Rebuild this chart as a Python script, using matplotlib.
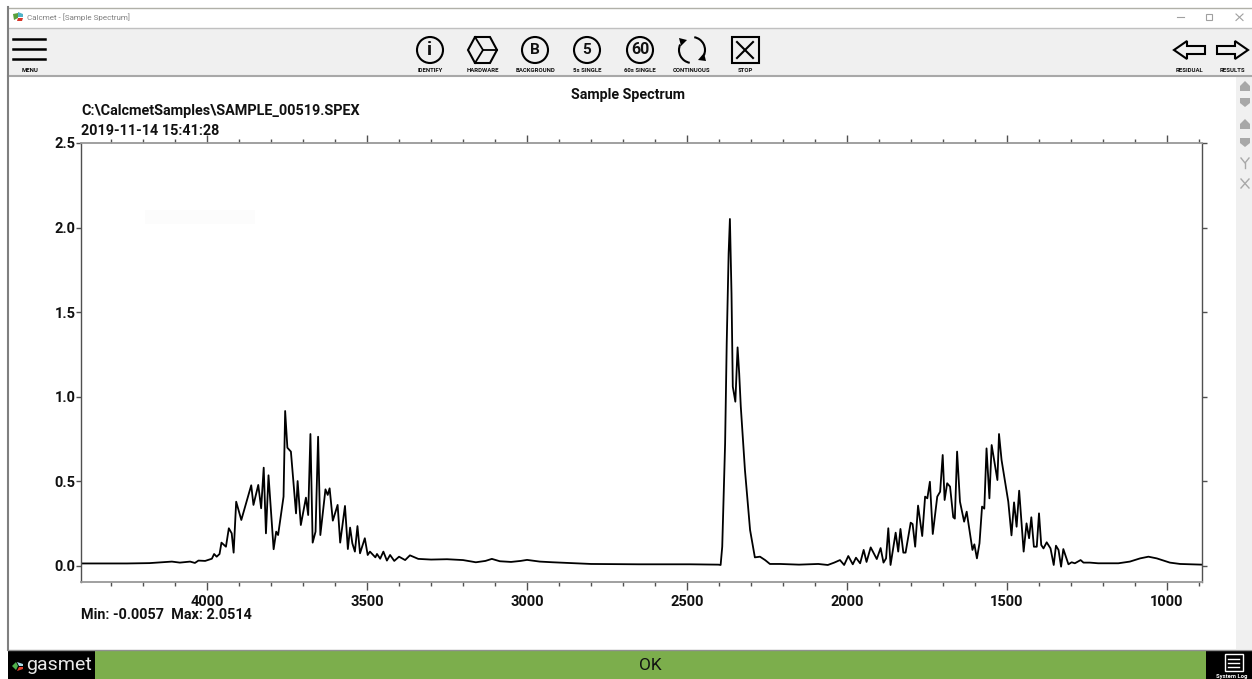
import matplotlib
matplotlib.use("Agg")
import matplotlib.pyplot as plt
from matplotlib.patches import Rectangle, Circle, Polygon, Arc
from matplotlib.ticker import MultipleLocator

plt.rcParams["font.family"] = ["Roboto", "DejaVu Sans"]

# wavenumber / absorbance
wavenumber = [4394, 4250, 4180, 4140, 4110, 4085, 4053, 4038, 4027, 4006, 3985, 3978, 3970, 3961, 3955,
              3941, 3932, 3923, 3917, 3909, 3893, 3862, 3855, 3840, 3831, 3823, 3816, 3808, 3792, 3784,
              3778, 3761, 3756, 3749, 3738, 3722, 3717, 3707, 3691, 3684, 3677, 3670, 3661, 3653, 3646,
              3630, 3623, 3617, 3607, 3592, 3584, 3569, 3560, 3553, 3546, 3538, 3530, 3522, 3507, 3498,
              3491, 3474, 3469, 3459, 3449, 3438, 3428, 3415, 3400, 3381, 3366, 3340, 3300, 3250, 3200,
              3160, 3130, 3110, 3085, 3050, 3020, 3000, 2960, 2920, 2870, 2800, 2650, 2491, 2402, 2395,
              2390, 2381, 2376, 2370, 2366, 2361, 2359, 2357, 2349, 2342, 2337, 2332, 2319, 2303, 2288,
              2272, 2256, 2241, 2209, 2150, 2090, 2060, 2040, 2022, 2009, 1996, 1982, 1972, 1959, 1948,
              1939, 1926, 1907, 1895, 1886, 1878, 1871, 1864, 1848, 1840, 1833, 1824, 1817, 1801, 1795,
              1787, 1778, 1765, 1756, 1749, 1741, 1732, 1718, 1709, 1701, 1695, 1687, 1678, 1668, 1663,
              1656, 1647, 1634, 1626, 1608, 1602, 1594, 1586, 1578, 1571, 1564, 1555, 1548, 1530, 1525,
              1517, 1496, 1486, 1478, 1470, 1462, 1448, 1439, 1431, 1424, 1416, 1407, 1400, 1393, 1386,
              1376, 1364, 1354, 1347, 1339, 1331, 1324, 1308, 1298, 1288, 1270, 1261, 1241, 1215, 1152,
              1116, 1084, 1058, 1032, 991, 959, 892]
absorbance = [0.015, 0.015, 0.017, 0.022, 0.026, 0.020, 0.026, 0.018, 0.032, 0.030, 0.043, 0.071, 0.055, 0.071, 0.138,
              0.114, 0.223, 0.193, 0.079, 0.380, 0.272, 0.477, 0.361, 0.479, 0.341, 0.581, 0.193, 0.536, 0.099, 0.203,
              0.183, 0.410, 0.916, 0.699, 0.676, 0.311, 0.502, 0.242, 0.404, 0.301, 0.780, 0.138, 0.203, 0.764, 0.183,
              0.453, 0.420, 0.459, 0.268, 0.361, 0.138, 0.355, 0.100, 0.227, 0.134, 0.085, 0.236, 0.075, 0.164, 0.065,
              0.085, 0.051, 0.071, 0.043, 0.085, 0.032, 0.065, 0.030, 0.055, 0.035, 0.063, 0.042, 0.038, 0.040, 0.035,
              0.022, 0.030, 0.042, 0.028, 0.024, 0.030, 0.036, 0.026, 0.022, 0.018, 0.012, 0.010, 0.010, 0.008, 0.006,
              0.114, 0.725, 1.316, 1.848, 2.051, 1.610, 1.316, 1.060, 0.971, 1.292, 1.139, 0.942, 0.567, 0.213, 0.051,
              0.055, 0.035, 0.012, 0.012, 0.008, 0.012, 0.006, 0.020, 0.035, 0.006, 0.059, 0.010, 0.049, 0.016, 0.095,
              0.024, 0.110, 0.041, 0.106, 0.020, 0.045, 0.223, 0.006, 0.197, 0.085, 0.219, 0.079, 0.079, 0.256, 0.248,
              0.114, 0.357, 0.177, 0.410, 0.400, 0.498, 0.189, 0.410, 0.439, 0.656, 0.390, 0.489, 0.469, 0.288, 0.280,
              0.676, 0.380, 0.262, 0.321, 0.095, 0.128, 0.045, 0.134, 0.351, 0.339, 0.695, 0.400, 0.715, 0.508, 0.780,
              0.626, 0.380, 0.181, 0.376, 0.232, 0.445, 0.085, 0.252, 0.164, 0.288, 0.114, 0.114, 0.311, 0.124, 0.104,
              0.140, 0.104, 0.006, 0.120, 0.095, -0.004, 0.100, 0.010, 0.022, 0.016, 0.035, 0.020, 0.020, 0.016, 0.016,
              0.026, 0.045, 0.055, 0.045, 0.020, 0.012, 0.008]

x_ticks = [4000, 3500, 3000, 2500, 2000, 1500, 1000]
y_ticks = [0.0, 0.5, 1.0, 1.5, 2.0, 2.5]
toolbar_labels = ["IDENTIFY", "HARDWARE", "BACKGROUND", "5s SINGLE", "60s SINGLE", "CONTINUOUS", "STOP"]
toolbar_x = [430, 483, 535, 587, 640, 692, 745]

fig = plt.figure(figsize=(12.52, 6.79), dpi=100)

# window chrome, in pixel coordinates
ui = fig.add_axes([0, 0, 1, 1])
ui.set_xlim(0, 1252)
ui.set_ylim(679, 0)
ui.axis("off")

ui.add_patch(Rectangle((8, 28), 1244, 48, color="#f0f0f0", lw=0))
ui.plot([8, 1252], [7.5, 7.5], color="#b0b0a8", lw=1)
ui.plot([8, 1252], [27.5, 27.5], color="#c0c0c0", lw=1)
ui.plot([8, 1252], [76, 76], color="#a8a8a8", lw=1.5)
ui.plot([8, 8], [7, 650], color="#808080", lw=1.5)
ui.add_patch(Rectangle((1236, 77), 16, 572, color="#f0f0f0", lw=0))
ui.add_patch(Rectangle((145, 210), 110, 14, color="#fcfcfc", lw=0))

# title bar
ui.add_patch(Polygon([[13, 14], [18, 13], [18, 18], [14, 20]], color="#5aa03c", lw=0))
ui.add_patch(Polygon([[18, 12], [23, 14], [23, 17], [18, 17]], color="#4fb3c8", lw=0))
ui.add_patch(Polygon([[17, 21], [18, 18], [23, 18], [22, 21]], color="#d8362a", lw=0))
ui.text(27, 17.5, "Calcmet - [Sample Spectrum]", fontsize=5.8, color="#808080", va="center")
ui.plot([1177, 1184], [17, 17], color="#a0a0a0", lw=0.8)
ui.add_patch(Rectangle((1206, 13.5), 6, 6, fill=False, ec="#a0a0a0", lw=0.8))
ui.plot([1236, 1243], [14, 20.5], color="#a0a0a0", lw=0.8)
ui.plot([1236, 1243], [20.5, 14], color="#a0a0a0", lw=0.8)

# toolbar
for yy in [39, 49, 59]:
    ui.plot([13, 45], [yy, yy], color="black", lw=1.8)
ui.text(30, 70.5, "MENU", fontsize=4.3, weight="bold", ha="center", va="center", color="#101010")
for lab, xx in zip(toolbar_labels, toolbar_x):
    ui.text(xx, 70.5, lab, fontsize=4.3, weight="bold", ha="center", va="center", color="#101010")
ui.text(1190, 70.5, "RESIDUAL", fontsize=4.3, weight="bold", ha="center", va="center", color="#101010")
ui.text(1232, 70.5, "RESULTS", fontsize=4.3, weight="bold", ha="center", va="center", color="#101010")

for xx, letter, size in [(430, "i", 14), (535, "B", 11), (587, "5", 11), (640, "60", 11.5)]:
    ui.add_patch(Circle((xx, 50), 13, fill=False, ec="black", lw=1.5))
    ui.text(xx, 50, letter, fontsize=size, weight="bold", ha="center", va="center", color="#111111")

ui.add_patch(Polygon([[468, 50], [475, 37], [490, 37], [497, 50], [490, 63], [475, 63]],
                     fill=False, ec="black", lw=1.5))
ui.plot([475, 483, 497], [37, 50, 50], color="black", lw=1.3)
ui.plot([483, 475], [50, 63], color="black", lw=1.3)

ui.add_patch(Arc((692, 50), 26, 26, theta1=-80, theta2=25, ec="black", lw=1.5))
ui.add_patch(Arc((692, 50), 26, 26, theta1=100, theta2=205, ec="black", lw=1.5))
ui.add_patch(Polygon([[679, 38], [687, 40], [681, 46]], color="black", lw=0))
ui.add_patch(Polygon([[706, 61], [698, 60], [704, 53]], color="black", lw=0))

ui.add_patch(Rectangle((731.5, 37), 27, 26, fill=False, ec="black", lw=1.5))
ui.plot([737, 753], [42, 58], color="black", lw=1.5)
ui.plot([737, 753], [58, 42], color="black", lw=1.5)

ui.add_patch(Polygon([[1174, 50], [1187, 41], [1187, 46], [1205, 46], [1205, 54], [1187, 54], [1187, 59]],
                     fill=False, ec="black", lw=1.5))
ui.add_patch(Polygon([[1248, 50], [1235, 41], [1235, 46], [1217, 46], [1217, 54], [1235, 54], [1235, 59]],
                     fill=False, ec="black", lw=1.5))

# side buttons
for yy in [86, 124]:
    ui.add_patch(Polygon([[1240, yy + 5], [1240, yy], [1245, yy - 5], [1250, yy], [1250, yy + 5]],
                         color="#a8a8a8", lw=0))
for yy in [102, 142]:
    ui.add_patch(Polygon([[1240, yy - 4], [1250, yy - 4], [1250, yy + 1], [1245, yy + 5], [1240, yy + 1]],
                         color="#a8a8a8", lw=0))
ui.plot([1241, 1245, 1249], [158, 163, 158], color="#a8a8a8", lw=1)
ui.plot([1245, 1245], [163, 168], color="#a8a8a8", lw=1)
ui.plot([1241, 1249], [179, 188], color="#a8a8a8", lw=1)
ui.plot([1241, 1249], [188, 179], color="#a8a8a8", lw=1)

# bottom bar
ui.plot([8, 1252], [649.5, 649.5], color="#909090", lw=1)
ui.add_patch(Rectangle((8, 650), 87, 29, color="black", lw=0))
ui.add_patch(Rectangle((95, 650), 1111, 29, color="#7cae4c", lw=0))
ui.add_patch(Rectangle((1206, 650), 46, 29, color="black", lw=0))
ui.add_patch(Polygon([[12, 666], [16, 662], [18, 666], [16, 670]], color="#4fb04c", lw=0))
ui.add_patch(Polygon([[17, 662], [23, 664], [23, 666], [19, 666]], color="#a8dce8", lw=0))
ui.add_patch(Polygon([[19, 667], [23, 667], [23, 669], [17, 671]], color="#e0402c", lw=0))
ui.text(26, 664.5, "gasmet", fontsize=14, color="#e8e8e8", weight="normal", va="center")
ui.text(650, 666, "OK", fontsize=12.5, color="#111111", ha="center", va="center")
ui.add_patch(Rectangle((1224.5, 654), 18, 17, fill=False, ec="white", lw=1))
for yy in [658.5, 662.5, 666.5]:
    ui.plot([1228, 1239], [yy, yy], color="white", lw=1)
ui.text(1232, 676.5, "System Log", fontsize=4.2, weight="bold", color="white", ha="center", va="center")

# spectrum
ax = fig.add_axes([81 / 1252, (679 - 582) / 679, 1121 / 1252, 439 / 679])
ax.patch.set_alpha(0)
ax.plot(wavenumber, absorbance, color="black", lw=1.3)
ax.set_xlim(4394, 890.6)
ax.set_ylim(-0.0946, 2.5)
ax.set_xticks(x_ticks)
ax.set_yticks(y_ticks)
ax.xaxis.set_minor_locator(MultipleLocator(100))
ax.tick_params(axis="x", which="major", top=True, length=6, width=1, color="#505050", pad=3, labelsize=10.5)
ax.tick_params(axis="x", which="minor", top=True, length=3, width=1, color="#505050")
ax.tick_params(axis="y", which="major", right=True, length=3.5, width=1, color="#505050", pad=0.5, labelsize=10.5)
for lab in ax.get_xticklabels() + ax.get_yticklabels():
    lab.set_fontweight("bold")
    lab.set_color("#111111")
for side in ["top", "bottom"]:
    ax.spines[side].set_color("#999999")
    ax.spines[side].set_linewidth(1.3)
for side in ["left", "right"]:
    ax.spines[side].set_color("#505050")
    ax.spines[side].set_linewidth(1)

ui.text(628, 95, "Sample Spectrum", fontsize=10.3, weight="bold", ha="center", va="center", color="#111111")
ui.text(81, 111, "C:\\CalcmetSamples\\SAMPLE_00519.SPEX", fontsize=10.35, weight="bold", va="center", color="#111111")
ui.text(81, 131, "2019-11-14 15:41:28", fontsize=10.35, weight="bold", va="center", color="#111111")
ui.text(81, 615, "Min: -0.0057  Max: 2.0514", fontsize=10.4, weight="bold", va="center", color="#111111")

fig.savefig("out.png", dpi=100)
